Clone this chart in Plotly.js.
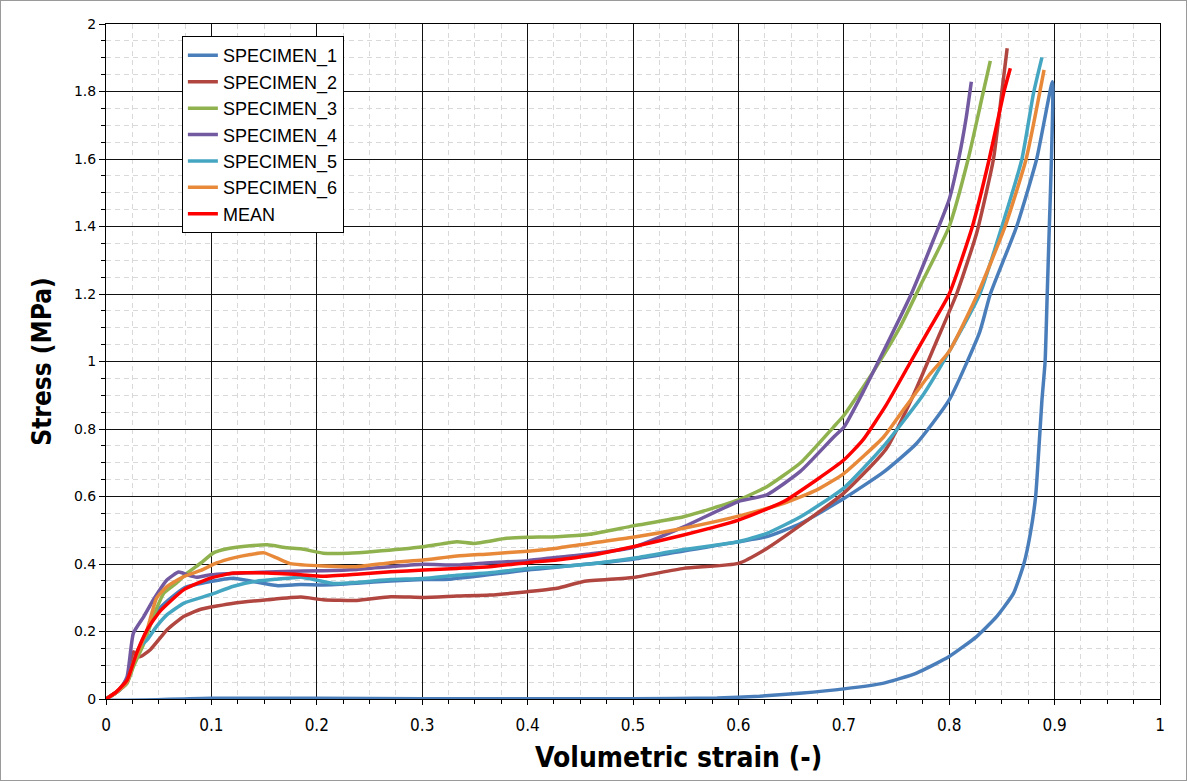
<!DOCTYPE html>
<html>
<head>
<meta charset="utf-8">
<script src="https://cdn.plot.ly/plotly-3.0.1.min.js"></script>
<style>
html,body{margin:0;padding:0;background:#fff;}
#chart{width:1185px;height:779px;border:1px solid #9a9a9a;}
</style>
</head>
<body>
<div id="chart"></div>
<script>
// ---- data ----
const seriesNames = ["SPECIMEN_1","SPECIMEN_2","SPECIMEN_3","SPECIMEN_4","SPECIMEN_5","SPECIMEN_6","MEAN"];
const seriesColors = ["#4a7ebb","#b0463f","#8fb24f","#7259a0","#45a6c2","#e8893a","#ff0000"];

// SPECIMEN_1: loading branch then return branch
const s1_x = [0,0.01,0.02,0.03,0.04,0.05,0.06,0.074,0.099,0.121,0.14,0.162,0.185,0.206,0.238,0.27,0.301,0.326,0.4,0.5,0.6,0.627,0.659,0.7,0.738,0.769,0.8,0.829,0.839,0.864,0.883,0.898,
              0.897,0.895,0.893,0.891,0.888,0.885,0.882,0.877,0.871,0.861,0.845,0.826,0.8,0.769,0.738,0.7,0.658,0.62,0.58,0.5,0.4,0.3,0.2,0.1,0];
const s1_y = [0,0.02,0.05,0.14,0.21,0.265,0.295,0.329,0.348,0.358,0.348,0.336,0.339,0.338,0.343,0.35,0.354,0.355,0.382,0.414,0.466,0.481,0.52,0.594,0.673,0.757,0.886,1.088,1.2,1.4,1.6,1.829,
              1.6,1.4,1.2,1.0,0.886,0.738,0.6,0.491,0.402,0.313,0.244,0.185,0.126,0.077,0.047,0.03,0.017,0.008,0.003,0.001,0.001,0.001,0.002,0.002,0];

const s2_x = [0,0.01,0.02,0.026,0.032,0.042,0.058,0.074,0.09,0.121,0.153,0.185,0.206,0.238,0.27,0.301,0.333,0.364,0.4,0.428,0.453,0.5,0.548,0.6,0.627,0.659,0.7,0.74,0.766,0.788,0.807,0.826,0.842,0.85,0.855];
const s2_y = [0,0.02,0.06,0.14,0.125,0.146,0.205,0.245,0.266,0.284,0.294,0.302,0.294,0.292,0.303,0.301,0.305,0.308,0.318,0.328,0.348,0.36,0.387,0.402,0.446,0.515,0.61,0.74,0.9,1.06,1.2,1.38,1.6,1.8,1.928];

const s3_x = [0,0.01,0.02,0.026,0.036,0.045,0.055,0.067,0.077,0.09,0.102,0.115,0.137,0.153,0.172,0.185,0.206,0.23,0.254,0.301,0.333,0.349,0.38,0.4,0.428,0.459,0.5,0.548,0.6,0.627,0.659,0.69,0.7,0.728,0.753,0.775,0.8,0.818,0.831,0.839];
const s3_y = [0,0.02,0.047,0.096,0.165,0.245,0.314,0.344,0.373,0.403,0.433,0.445,0.454,0.457,0.448,0.445,0.432,0.432,0.437,0.451,0.466,0.461,0.476,0.479,0.481,0.488,0.513,0.54,0.59,0.629,0.7,0.805,0.84,0.97,1.1,1.24,1.4,1.6,1.78,1.891];

const s4_x = [0,0.013,0.02,0.026,0.036,0.045,0.058,0.069,0.077,0.086,0.099,0.169,0.206,0.238,0.27,0.301,0.333,0.364,0.4,0.428,0.459,0.5,0.548,0.6,0.627,0.659,0.69,0.7,0.72,0.74,0.764,0.785,0.8,0.809,0.816,0.821];
const s4_y = [0,0.027,0.066,0.195,0.245,0.294,0.353,0.376,0.368,0.361,0.368,0.378,0.38,0.384,0.392,0.399,0.397,0.404,0.41,0.42,0.43,0.449,0.51,0.585,0.605,0.675,0.775,0.805,0.92,1.045,1.2,1.36,1.48,1.6,1.72,1.829];

const s5_x = [0,0.01,0.02,0.027,0.032,0.039,0.048,0.058,0.074,0.099,0.121,0.143,0.162,0.185,0.2,0.216,0.27,0.301,0.333,0.364,0.4,0.428,0.459,0.5,0.548,0.6,0.627,0.659,0.7,0.738,0.775,0.8,0.829,0.85,0.869,0.88,0.888];
const s5_y = [0,0.02,0.05,0.12,0.155,0.175,0.215,0.25,0.284,0.309,0.334,0.349,0.355,0.361,0.352,0.342,0.354,0.357,0.367,0.374,0.387,0.392,0.4,0.417,0.443,0.466,0.491,0.54,0.625,0.75,0.9,1.03,1.2,1.4,1.6,1.795,1.901];

const s6_x = [0,0.01,0.02,0.026,0.039,0.048,0.058,0.074,0.09,0.105,0.121,0.137,0.15,0.162,0.175,0.206,0.238,0.27,0.301,0.333,0.364,0.4,0.428,0.459,0.5,0.548,0.6,0.643,0.674,0.7,0.738,0.755,0.781,0.8,0.827,0.853,0.873,0.89];
const s6_y = [0,0.02,0.05,0.106,0.205,0.299,0.334,0.363,0.381,0.403,0.418,0.428,0.433,0.418,0.401,0.394,0.392,0.404,0.412,0.424,0.43,0.438,0.447,0.461,0.479,0.506,0.542,0.58,0.619,0.668,0.777,0.85,0.96,1.03,1.2,1.4,1.6,1.864];

const mean_x = [0,0.01,0.02,0.029,0.039,0.051,0.074,0.099,0.121,0.153,0.185,0.206,0.238,0.27,0.301,0.333,0.364,0.4,0.428,0.459,0.5,0.548,0.6,0.643,0.674,0.7,0.718,0.74,0.76,0.78,0.8,0.822,0.838,0.852,0.858];
const mean_y = [0,0.022,0.056,0.136,0.205,0.259,0.324,0.358,0.373,0.373,0.368,0.364,0.37,0.377,0.382,0.387,0.392,0.404,0.412,0.425,0.451,0.486,0.53,0.585,0.649,0.708,0.767,0.87,0.98,1.09,1.2,1.4,1.6,1.8,1.869];

const xTickVals = [0,0.1,0.2,0.3,0.4,0.5,0.6,0.7,0.8,0.9,1];
const xTickText = ["0","0.1","0.2","0.3","0.4","0.5","0.6","0.7","0.8","0.9","1"];
const yTickVals = [0,0.2,0.4,0.6,0.8,1,1.2,1.4,1.6,1.8,2];
const yTickText = ["0","0.2","0.4","0.6","0.8","1","1.2","1.4","1.6","1.8","2"];
const xTitle = "Volumetric strain (-)";
const yTitle = "Stress (MPa)";

const xs = [s1_x,s2_x,s3_x,s4_x,s5_x,s6_x,mean_x];
const ys = [s1_y,s2_y,s3_y,s4_y,s5_y,s6_y,mean_y];

const narrow = "'Liberation Sans Narrow','DejaVu Sans Condensed','Open Sans',sans-serif";

const traces = seriesNames.map((n,i)=>({
  type:'scatter', mode:'lines', name:n, x:xs[i], y:ys[i],
  line:{color:seriesColors[i], width:3.5, shape:'spline', smoothing:0.5}
}));

const minorDash = '5px,4px';

const layout = {
  width:1185, height:779,
  margin:{l:105, r:26, t:23, b:81},
  paper_bgcolor:'#fff', plot_bgcolor:'#fff',
  showlegend:true,
  legend:{x:0.072, y:0.982, xanchor:'left', yanchor:'top', bgcolor:'#fff',
          bordercolor:'#000', borderwidth:1,
          font:{family:"'Liberation Sans',Arial,sans-serif", size:18, color:'#000'}},
  xaxis:{range:[0,1], tickvals:xTickVals, ticktext:xTickText,
         showgrid:true, gridcolor:'#111', gridwidth:1, zeroline:false,
         showline:true, linecolor:'#000', linewidth:1, mirror:true,
         ticks:'outside', ticklen:5, tickcolor:'#000', ticklabelstandoff:6,
         minor:{dtick:0.025, tick0:0, showgrid:true, gridcolor:'#d9d9d9', griddash:minorDash, gridwidth:1,
                ticks:'outside', ticklen:4, tickcolor:'#000'},
         tickfont:{family:narrow, size:17, color:'#000'},
         title:{text:''}},
  yaxis:{range:[0,2], tickvals:yTickVals, ticktext:yTickText,
         showgrid:true, gridcolor:'#111', gridwidth:1, zeroline:false,
         showline:true, linecolor:'#000', linewidth:1, mirror:true,
         ticks:'outside', ticklen:6, tickcolor:'#000',
         minor:{dtick:0.05, tick0:0, showgrid:true, gridcolor:'#d9d9d9', griddash:minorDash, gridwidth:1,
                ticks:'outside', ticklen:4, tickcolor:'#000'},
         tickfont:{family:"'DejaVu Sans',Verdana,sans-serif", size:14, color:'#000'},
         title:{text:yTitle, standoff:14,
                font:{family:narrow, size:26, color:'#000', weight:'bold'}}},
  annotations:[{text:xTitle, xref:'paper', yref:'paper', x:0.543, y:-0.086,
                xanchor:'center', yanchor:'middle', showarrow:false,
                font:{family:narrow, size:28, color:'#000', weight:'bold'}}]
};

Plotly.newPlot('chart', traces, layout, {displayModeBar:false, staticPlot:true});
</script>
</body>
</html>
